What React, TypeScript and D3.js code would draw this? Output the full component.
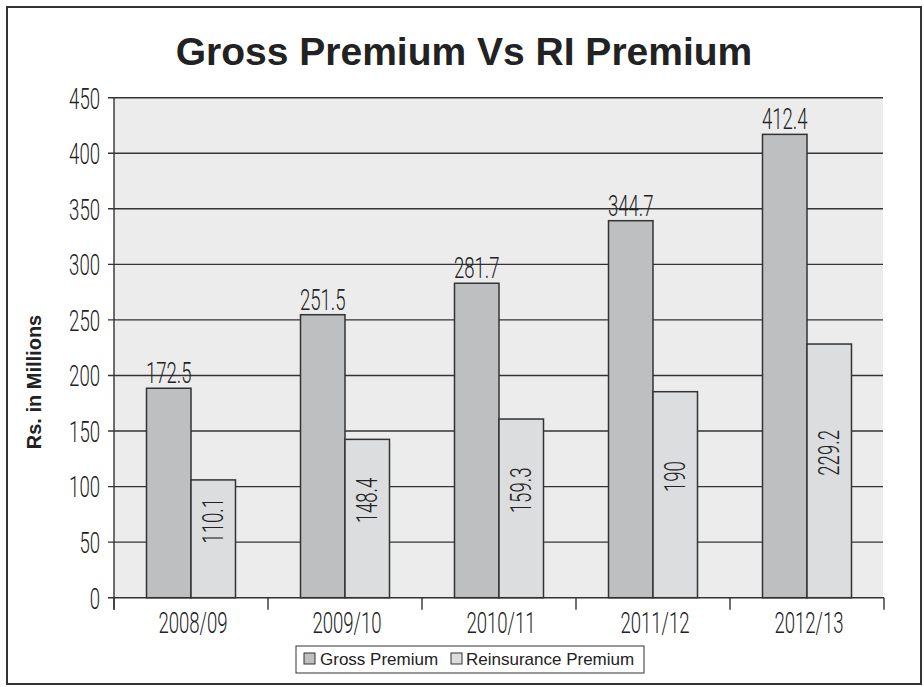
import React from "react";
import * as d3 from "d3";

const categories = ["2008/09", "2009/10", "2010/11", "2011/12", "2012/13"];
// printed data labels
const grossLabels = ["172.5", "251.5", "281.7", "344.7", "412.4"];
const riLabels = ["110.1", "148.4", "159.3", "190", "229.2"];
// bar heights as they are drawn in the picture (they don't quite match the labels)
const grossValues = [188.5, 254.7, 283, 339.3, 417];
const riValues = [106, 142.5, 160.8, 185.4, 228.3];
const yTicks = [0, 50, 100, 150, 200, 250, 300, 350, 400, 450];
const seriesNames = ["Gross Premium", "Reinsurance Premium"];

const W = 924;
const H = 687;
const ink = "#222";
const grossFill = "#bebfc1";
const riFill = "#dcdddf";
const condFont = "Roboto, 'Liberation Sans', Arial, sans-serif";

// condensed light text, squeezed horizontally
const CondText = ({ x, y, rotate = 0, anchor = "middle", dy = "0", children }) => (
  <g transform={`translate(${x},${y}) rotate(${rotate}) scale(0.62,1)`}>
    <text
      textAnchor={anchor}
      dy={dy}
      fontFamily={condFont}
      fontWeight={300}
      fontSize={30}
      fill={ink}
    >
      {children}
    </text>
  </g>
);

const App = () => {
  const margin = { left: 114, right: 884, top: 97.7, bottom: 597.7 };

  const x0 = d3
    .scaleBand()
    .domain(categories)
    .range([margin.left, margin.right]);

  const x1 = d3
    .scaleBand()
    .domain(seriesNames)
    .range([32.5, 121.5]);

  const y = d3
    .scaleLinear()
    .domain([0, 450])
    .range([margin.bottom, margin.top]);

  const bw = x1.bandwidth();

  return (
    <svg
      width={W}
      height={H}
      style={{ position: "absolute", left: 0, top: 0, background: "#fff" }}
    >
      {/* outer frame */}
      <rect x={7} y={7} width={914} height={677} fill="none" stroke="#333" strokeWidth={2} />

      {/* title */}
      <text
        x={464}
        y={65}
        textAnchor="middle"
        fontFamily="'Liberation Sans', Arial, sans-serif"
        fontWeight="bold"
        fontSize={39}
        fill={ink}
      >
        Gross Premium Vs RI Premium
      </text>

      {/* plot background */}
      <rect
        x={margin.left}
        y={y(450)}
        width={883 - margin.left}
        height={y(0) - y(450)}
        fill="#ececec"
      />

      {/* gridlines + y ticks */}
      {yTicks.map((t) => (
        <g key={t}>
          <line x1={108} x2={t === 0 ? 884 : 883} y1={y(t)} y2={y(t)} stroke="#333" strokeWidth={1.4} />
          <CondText x={100} y={y(t)} anchor="end" dy="0.36em">
            {t}
          </CondText>
        </g>
      ))}

      {/* y axis line */}
      <line x1={margin.left} x2={margin.left} y1={y(450)} y2={y(0) + 12} stroke="#333" strokeWidth={1.4} />

      {/* x ticks at band edges */}
      {[...categories.map((c) => x0(c)), margin.right].map((xx, i) => (
        <line key={i} x1={xx} x2={xx} y1={y(0)} y2={y(0) + 12} stroke="#333" strokeWidth={1.4} />
      ))}

      {/* bars */}
      {categories.map((c, i) => {
        const gx = x0(c) + x1("Gross Premium");
        const rx = x0(c) + x1("Reinsurance Premium");
        return (
          <g key={c}>
            <rect
              x={gx}
              y={y(grossValues[i])}
              width={bw}
              height={y(0) - y(grossValues[i])}
              fill={grossFill}
              stroke="#333"
              strokeWidth={1.5}
            />
            <rect
              x={rx}
              y={y(riValues[i])}
              width={bw}
              height={y(0) - y(riValues[i])}
              fill={riFill}
              stroke="#333"
              strokeWidth={1.5}
            />
            <CondText x={gx + bw / 2} y={y(grossValues[i]) - 5}>
              {grossLabels[i]}
            </CondText>
            <CondText
              x={rx + bw / 2 - 1}
              y={y(riValues[i] / 2) - 18}
              rotate={-90}
              dy="0.36em"
            >
              {riLabels[i]}
            </CondText>
            <CondText x={x0(c) + x0.bandwidth() / 2 + 2} y={633}>
              {c}
            </CondText>
          </g>
        );
      })}

      {/* y axis title */}
      <text
        transform={`translate(41,382) rotate(-90)`}
        textAnchor="middle"
        fontFamily="'Liberation Sans', Arial, sans-serif"
        fontWeight="bold"
        fontSize={20}
        fill={ink}
      >
        Rs. in Millions
      </text>

      {/* legend */}
      <g fontFamily="'Liberation Sans', Arial, sans-serif" fontSize={17} fill={ink}>
        <rect x={296} y={646} width={348} height={27} fill="#fff" stroke="#333" strokeWidth={1} />
        <rect x={304} y={653} width={11} height={11} fill={grossFill} stroke="#333" strokeWidth={1} />
        <text x={320} y={665}>{seriesNames[0]}</text>
        <rect x={451} y={653} width={11} height={11} fill={riFill} stroke="#333" strokeWidth={1} />
        <text x={466} y={665}>{seriesNames[1]}</text>
      </g>
    </svg>
  );
};

export default App;
